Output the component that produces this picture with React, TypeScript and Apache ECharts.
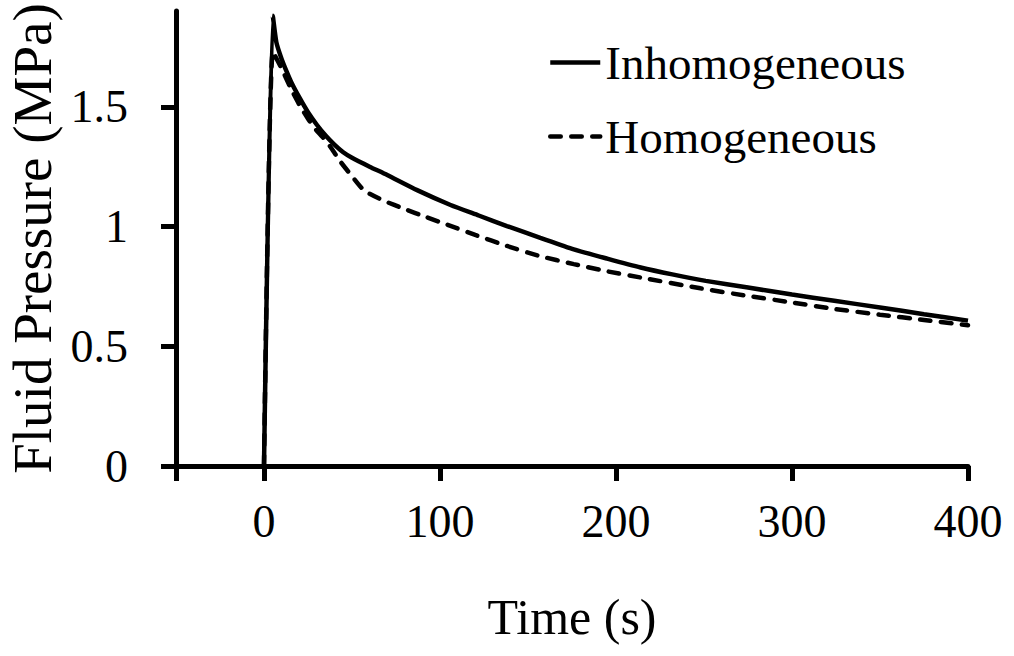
import React, { useEffect, useRef } from "react";
import * as echarts from "echarts";

const seriesNames = ["Inhomogeneous", "Homogeneous"];

const inhomoTime = [0, 5, 7, 10, 13, 16, 20, 25, 30, 35, 40, 45, 50, 60, 70, 87, 106, 122, 138, 157, 176, 195, 214, 232, 251, 275, 300, 324, 350, 375, 400];
const inhomoPressure = [0, 1.88, 1.77, 1.70, 1.645, 1.595, 1.54, 1.477, 1.425, 1.38, 1.342, 1.31, 1.287, 1.25, 1.215, 1.152, 1.09, 1.046, 1.002, 0.953, 0.905, 0.866, 0.829, 0.8, 0.773, 0.745, 0.716, 0.69, 0.662, 0.634, 0.607];

const homoTime = [0, 5, 10, 15, 20, 25, 30, 35, 38, 43, 50, 57, 68, 80, 92, 104, 120, 138, 156, 176, 195, 214, 248, 275, 300, 324, 350, 375, 400];
const homoPressure = [0, 1.73, 1.66, 1.58, 1.51, 1.45, 1.40, 1.36, 1.33, 1.275, 1.21, 1.15, 1.108, 1.073, 1.04, 1.008, 0.965, 0.919, 0.878, 0.843, 0.813, 0.787, 0.742, 0.71, 0.683, 0.656, 0.632, 0.61, 0.588];

const xTickValues = [-50, 0, 100, 200, 300, 400];
const xLabelValues = [0, 100, 200, 300, 400];
const yTickValues = [0, 0.5, 1, 1.5];

const FONT = "Liberation Serif";

export default function App() {
  const ref = useRef<HTMLDivElement>(null);
  useEffect(() => {
    document.body.style.margin = "0";
    const chart = echarts.init(ref.current!, undefined, { renderer: "svg" });
    const inhomo = inhomoTime.map((t, i) => [t, inhomoPressure[i]]);
    const homo = homoTime.map((t, i) => [t, homoPressure[i]]);
    chart.setOption({
      animation: false,
      backgroundColor: "#ffffff",
      textStyle: { fontFamily: FONT, color: "#000" },
      grid: { left: 176, right: 46, top: 11, bottom: 190, containLabel: false, outerBoundsMode: "none" },
      legend: {
        orient: "vertical",
        left: 543,
        top: 34,
        itemWidth: 50,
        itemHeight: 14,
        itemGap: 27,
        data: seriesNames,
        itemStyle: { opacity: 0 },
        lineStyle: { width: 4.5 },
        textStyle: { fontFamily: FONT, fontSize: 47, color: "#000" },
        selectedMode: false,
      },
      xAxis: {
        type: "value",
        min: -50,
        max: 400,
        name: "Time (s)",
        nameLocation: "middle",
        nameGap: 126,
        nameTextStyle: { fontFamily: FONT, fontSize: 50, color: "#000" },
        axisLine: { onZero: false, lineStyle: { color: "#000", width: 5 } },
        axisTick: { show: true, length: 15, lineStyle: { color: "#000", width: 5 }, customValues: xTickValues },
        axisLabel: { fontFamily: FONT, fontSize: 46, color: "#000", margin: 32, customValues: xLabelValues },
        splitLine: { show: false },
      },
      yAxis: {
        type: "value",
        min: 0,
        max: 1.9,
        name: "Fluid Pressure (MPa)",
        nameLocation: "middle",
        nameGap: 115,
        nameTextStyle: { fontFamily: FONT, fontSize: 55, color: "#000" },
        axisLine: { onZero: false, lineStyle: { color: "#000", width: 5 } },
        axisTick: { show: true, length: 15, lineStyle: { color: "#000", width: 5 }, customValues: yTickValues },
        axisLabel: { fontFamily: FONT, fontSize: 46, color: "#000", margin: 48, customValues: yTickValues },
        splitLine: { show: false },
      },
      series: [
        {
          name: seriesNames[0],
          type: "line",
          data: inhomo,
          showSymbol: false,
          symbol: "none",
          smooth: 0.2,
          lineStyle: { color: "#000", width: 4.5, type: "solid" },
          itemStyle: { color: "#000" },
        },
        {
          name: seriesNames[1],
          type: "line",
          data: homo,
          showSymbol: false,
          symbol: "none",
          smooth: 0.2,
          lineStyle: { color: "#000", width: 4.5, type: [10.5, 10.5], cap: "round" },
          itemStyle: { color: "#000" },
        },
      ],
    });
    return () => chart.dispose();
  }, []);
  return <div ref={ref} style={{ width: 1014, height: 656 }} />;
}
